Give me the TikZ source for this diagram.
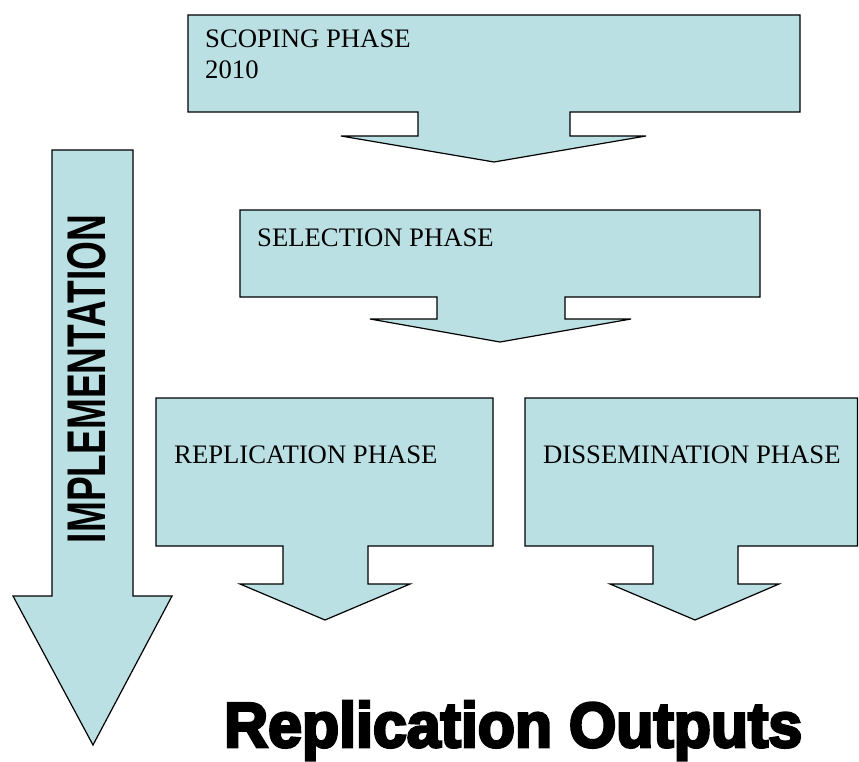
\documentclass[tikz,border=0pt]{standalone}
\usepackage{fontspec}
\setmainfont{Liberation Serif}
\newfontfamily\implfont{Liberation Sans}
\newfontfamily\heavyfont[FakeBold=4.5]{Liberation Sans}
\usepackage{tikz}
\definecolor{phaseblue}{HTML}{BBE0E3}
\tikzset{
	phase/.style={draw=black, fill=phaseblue, line width=1.2pt, line join=miter},
	phasetext/.style={anchor=base west, inner sep=0pt, font=\fontsize{26.7}{31}\selectfont}
}

\begin{document}
\begin{tikzpicture}[x=1pt, y=-1pt]
			%%%%% START %%%%%
			
			\useasboundingbox (0, 0) rectangle (859, 762);
			
			\draw[phase] (52, 150) -- (133, 150) -- (133, 596) -- (172, 596) -- (93, 745) -- (13, 596) -- (52, 596) -- cycle;
			\node[inner sep=0pt, rotate=90] (impl) at (86.5, 379) {\scalebox{0.68}[1]{\implfont\bfseries\fontsize{54.5}{60}\selectfont IMPLEMENTATION}};
			
			\draw[phase] (188, 15) -- (800, 15) -- (800, 112) -- (570, 112) -- (570, 136) -- (646, 136) -- (494, 162) -- (341, 136) -- (418, 136) -- (418, 112) -- (188, 112) -- cycle;
			\node[anchor=north west, inner sep=0pt, align=left, font=\fontsize{26.7}{31}\selectfont] (scoping) at (205, 30) {SCOPING PHASE\\2010};
			
			\draw[phase] (240, 210) -- (760, 210) -- (760, 297) -- (565, 297) -- (565, 319) -- (631, 319) -- (500, 342) -- (370, 319) -- (437, 319) -- (437, 297) -- (240, 297) -- cycle;
			\node[phasetext] (selection) at (257, 246) {SELECTION PHASE};
			
			\draw[phase] (156, 398) -- (493, 398) -- (493, 546) -- (368, 546) -- (368, 584) -- (410, 584) -- (325, 620) -- (240, 584) -- (283, 584) -- (283, 546) -- (156, 546) -- cycle;
			\node[phasetext] (replication) at (174, 463) {REPLICATION PHASE};
			
			\draw[phase] (525, 398) -- (857.5, 398) -- (857.5, 546) -- (738, 546) -- (738, 584) -- (779, 584) -- (695, 620) -- (610, 584) -- (653, 584) -- (653, 546) -- (525, 546) -- cycle;
			\node[phasetext] (dissemination) at (543, 463) {DISSEMINATION PHASE};
			
			\node[anchor=base west, inner sep=0pt] (outputs) at (224, 747) {\resizebox{578pt}{46pt}{\heavyfont\bfseries Replication Outputs}};
			
			%%%%% END %%%%%
		\end{tikzpicture}
\end{document}
